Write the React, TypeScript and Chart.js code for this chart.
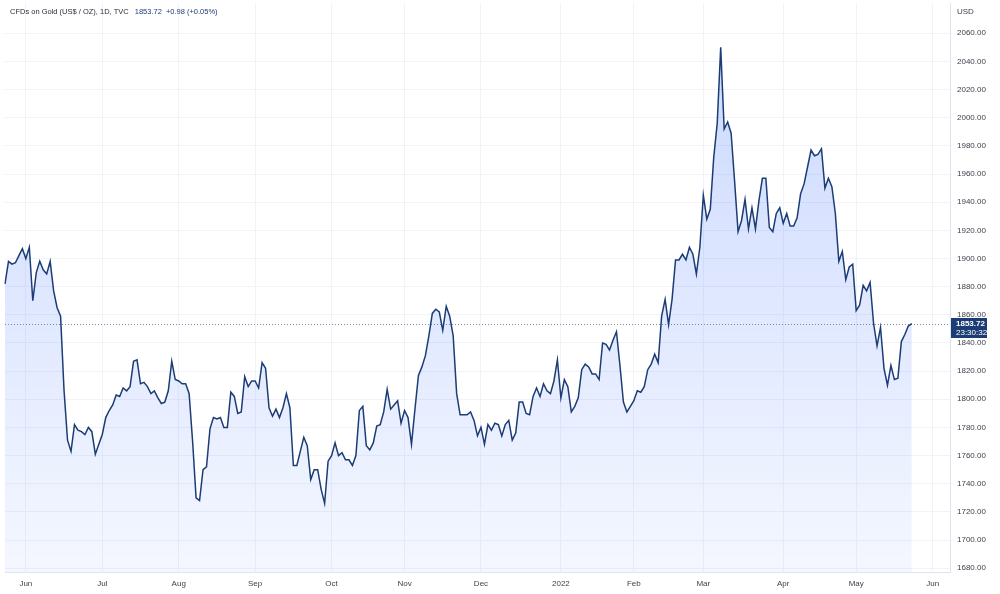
import { useEffect, useRef } from "react";
import { Chart, registerables } from "chart.js";

Chart.register(...registerables);

// ---- Data ----
const SERIES_TITLE = "CFDs on Gold (US$ / OZ), 1D, TVC";
const LAST_PRICE = 1853.72;
const CHANGE_TEXT = "+0.98 (+0.05%)";
const COUNTDOWN = "23:30:32";
const CURRENCY = "USD";

// first trading day shown (daily bars, weekdays)
const START_DATE = "2021-05-24";
// empty weekday slots to the right of the last bar
const EMPTY_SLOTS_AFTER = 11;

// daily closes, May 24 2021 -> May 24 2022
const closes2021Q2 = [
  1882, 1898, 1896, 1897, 1902, 1907, 1900, 1908, 1870, 1890, 1898, 1892, 1889, 1898, 1877, 1865, 1859,
  1806, 1771, 1763, 1782, 1778, 1777, 1775, 1780, 1777, 1761, 1768,
];
const closes2021Q3 = [
  1775, 1787, 1792, 1796, 1803, 1802, 1808, 1806, 1809, 1827, 1828, 1811, 1812, 1809, 1804, 1806, 1801,
  1797, 1798, 1806, 1827, 1814, 1813, 1811, 1811, 1804, 1770, 1730, 1728, 1750, 1752, 1779, 1787, 1786,
  1787, 1780, 1780, 1805, 1802, 1790, 1791, 1816, 1809, 1813, 1813, 1808, 1826, 1822, 1794, 1788, 1793,
  1787, 1794, 1804, 1794, 1753, 1753, 1763, 1773, 1767, 1743, 1750, 1750, 1736, 1726,
];
const closes2021Q4 = [
  1756, 1760, 1769, 1760, 1762, 1757, 1757, 1753, 1760, 1792, 1795, 1767, 1764, 1769, 1781, 1782, 1791,
  1807, 1793, 1796, 1799, 1783, 1792, 1787, 1768, 1793, 1817, 1823, 1831, 1845, 1861, 1864, 1862, 1849,
  1866, 1859, 1845, 1804, 1789, 1789, 1789, 1791, 1785, 1774, 1780, 1768, 1782, 1778, 1783, 1782, 1774,
  1782, 1785, 1771, 1776, 1798, 1798, 1790, 1789, 1802, 1808, 1802, 1811, 1806, 1804, 1813,
];
const closes2022Q1 = [
  1828, 1801, 1814, 1809, 1791, 1795, 1801, 1821, 1825, 1823, 1818, 1818, 1814, 1840, 1839, 1835, 1842,
  1848, 1824, 1798, 1791, 1795, 1799, 1806, 1805, 1809, 1821, 1825, 1832, 1826, 1859, 1871, 1853, 1871,
  1899, 1899, 1903, 1899, 1908, 1903, 1889, 1908, 1945, 1928, 1935, 1972, 1996, 2050, 1992, 1997, 1989,
  1955, 1919, 1927, 1942, 1921, 1936, 1921, 1941, 1957, 1957, 1922, 1919, 1932,
];
const closes2022Q2 = [
  1936, 1925, 1932, 1923, 1923, 1929, 1946, 1953, 1965, 1977, 1973, 1974, 1978, 1950, 1957, 1951, 1932,
  1898, 1905, 1885, 1894, 1896, 1863, 1867, 1881, 1877, 1883, 1854, 1838, 1851, 1822, 1810, 1824, 1814,
  1815, 1841, 1846, 1852, 1853.72,
];

const closes = [...closes2021Q2, ...closes2021Q3, ...closes2021Q4, ...closes2022Q1, ...closes2022Q2];

// x tick label per month (January shows the year)
const MONTH_TICK_LABELS = ["2022", "Feb", "Mar", "Apr", "May", "Jun", "Jul", "Aug", "Sep", "Oct", "Nov", "Dec"];

// y ticks
const Y_TICKS = [
  1680, 1700, 1720, 1740, 1760, 1780, 1800, 1820, 1840, 1860, 1880, 1900, 1920, 1940, 1960, 1980, 2000,
  2020, 2040, 2060,
];
const Y_MIN = 1677.3;
const Y_MAX = 2081.5;

// ---- Styles ----
const LINE_COLOR = "#1c3c75";
const GRID_COLOR = "#f0f3fa";
const TEXT_COLOR = "#3c3f4a";
const FONT_FAMILY = "'Liberation Sans', Arial, sans-serif";

function buildWeekdayDates(start: string, count: number): Date[] {
  const out: Date[] = [];
  const d = new Date(start + "T12:00:00Z");
  while (out.length < count) {
    const wd = d.getUTCDay();
    if (wd !== 0 && wd !== 6) out.push(new Date(d.getTime()));
    d.setUTCDate(d.getUTCDate() + 1);
  }
  return out;
}

export default function App() {
  const canvasRef = useRef<HTMLCanvasElement | null>(null);

  useEffect(() => {
    document.body.style.margin = "0";
    const canvas = canvasRef.current;
    if (!canvas) return;

    const dates = buildWeekdayDates(START_DATE, closes.length + EMPTY_SLOTS_AFTER);
    const labels = dates.map((d) => d.toISOString().slice(0, 10));
    const data: (number | null)[] = labels.map((_, i) => (i < closes.length ? closes[i] : null));
    const monthStartIdx: number[] = [];
    for (let i = 1; i < dates.length; i++) {
      if (dates[i].getUTCMonth() !== dates[i - 1].getUTCMonth()) monthStartIdx.push(i);
    }

    const overlay = {
      id: "overlay",
      beforeDatasetsDraw(chart: any) {
        const { ctx, chartArea, scales } = chart;
        const y = Math.round(scales.y.getPixelForValue(LAST_PRICE)) + 0.5;
        ctx.save();
        ctx.strokeStyle = "#7d89a8";
        ctx.lineWidth = 1;
        ctx.setLineDash([1, 2]);
        ctx.beginPath();
        ctx.moveTo(chartArea.left, y);
        ctx.lineTo(chartArea.right, y);
        ctx.stroke();
        ctx.restore();
      },
      afterDraw(chart: any) {
        const { ctx, chartArea, scales } = chart;
        const y = scales.y.getPixelForValue(LAST_PRICE);
        ctx.save();
        // price tag
        ctx.fillStyle = LINE_COLOR;
        ctx.fillRect(chartArea.right + 1, Math.round(y) - 6, 36, 20);
        ctx.fillStyle = "#ffffff";
        ctx.textBaseline = "middle";
        ctx.textAlign = "left";
        ctx.font = `bold 8px ${FONT_FAMILY}`;
        ctx.fillText(LAST_PRICE.toFixed(2), chartArea.right + 6, y);
        ctx.font = `8px ${FONT_FAMILY}`;
        ctx.fillText(COUNTDOWN, chartArea.right + 6, y + 9);
        // currency
        ctx.fillStyle = TEXT_COLOR;
        ctx.fillText(CURRENCY, chartArea.right + 7, 12);
        // header
        ctx.font = `7.5px ${FONT_FAMILY}`;
        let x = 10;
        ctx.fillStyle = "#2a2e39";
        ctx.fillText(SERIES_TITLE, x, 12);
        x += ctx.measureText(SERIES_TITLE).width + 6;
        ctx.fillStyle = LINE_COLOR;
        ctx.fillText(LAST_PRICE.toFixed(2), x, 12);
        x += ctx.measureText(LAST_PRICE.toFixed(2)).width + 4;
        ctx.fillText(CHANGE_TEXT, x, 12);
        ctx.restore();
      },
    };

    const chart = new Chart(canvas, {
      type: "line",
      data: {
        labels,
        datasets: [
          {
            data,
            borderColor: LINE_COLOR,
            borderWidth: 1.5,
            pointRadius: 0,
            tension: 0,
            fill: "start",
            backgroundColor: (ctx: any) => {
              const area = ctx.chart.chartArea;
              if (!area) return "rgba(41,98,255,0.15)";
              const g = ctx.chart.ctx.createLinearGradient(0, area.top, 0, area.bottom);
              g.addColorStop(0, "rgba(41,98,255,0.25)");
              g.addColorStop(1, "rgba(41,98,255,0.05)");
              return g;
            },
            spanGaps: false,
          },
        ],
      },
      options: {
        animation: false,
        responsive: false,
        maintainAspectRatio: false,
        devicePixelRatio: 1,
        layout: { padding: { left: 5, top: 3, right: 0, bottom: 0 } },
        plugins: { legend: { display: false }, tooltip: { enabled: false } },
        scales: {
          x: {
            type: "category",
            offset: false,
            afterBuildTicks: (scale: any) => {
              scale.ticks = monthStartIdx.map((i) => ({ value: i }));
            },
            afterFit: (scale: any) => {
              scale.height = 22;
              scale.paddingLeft = 0;
              scale.paddingRight = 0;
            },
            ticks: {
              autoSkip: false,
              maxRotation: 0,
              padding: 7,
              color: TEXT_COLOR,
              font: { family: FONT_FAMILY, size: 8 },
              callback: (value: any) => MONTH_TICK_LABELS[dates[value as number].getUTCMonth()],
            },
            grid: { color: GRID_COLOR, drawTicks: false },
            border: { display: true, color: "#e0e3eb" },
          },
          y: {
            type: "linear",
            position: "right",
            min: Y_MIN,
            max: Y_MAX,
            afterBuildTicks: (scale: any) => {
              scale.ticks = Y_TICKS.map((v) => ({ value: v }));
            },
            afterFit: (scale: any) => {
              scale.width = 50;
              scale.paddingTop = 0;
              scale.paddingBottom = 0;
            },
            ticks: {
              padding: 7,
              color: TEXT_COLOR,
              font: { family: FONT_FAMILY, size: 8 },
              callback: (value: any) => Number(value).toFixed(2),
            },
            grid: { color: GRID_COLOR, drawTicks: false },
            border: { display: true, color: "#e0e3eb" },
          },
        },
      },
      plugins: [overlay],
    });

    return () => chart.destroy();
  }, []);

  return (
    <div style={{ width: 1000, height: 594, background: "#ffffff" }}>
      <canvas ref={canvasRef} width={1000} height={594} style={{ display: "block" }} />
    </div>
  );
}
